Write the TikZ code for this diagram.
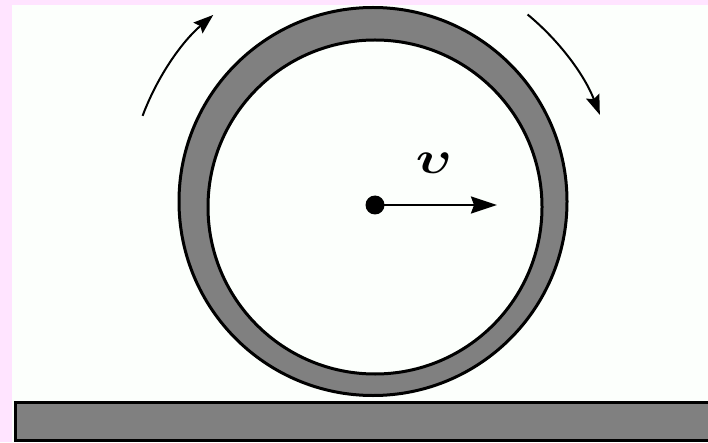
\documentclass[tikz,border=0pt]{standalone}
\usepackage{amsmath,bm}
\usetikzlibrary{arrows.meta}
\definecolor{pinkbg}{HTML}{FFE4FF}
\definecolor{innerbg}{HTML}{FCFFFC}
\definecolor{ringgray}{HTML}{808080}
\begin{document}
\begin{tikzpicture}[x=1pt,y=1pt,
  ring/.style={fill=ringgray,draw=black,line width=3pt,even odd rule},
  rotarrow/.style={line width=2pt,-{Stealth[length=20pt,width=14pt,inset=3pt]}},
  velarrow/.style={line width=2.5pt,-{Stealth[length=26pt,width=17pt,inset=3pt]}},
  barstyle/.style={fill=ringgray,draw=black,line width=3pt}]
\useasboundingbox (0,0) rectangle (708,442);
\fill[pinkbg] (0,0) rectangle (708,442);
\fill[innerbg] (12,0) rectangle (708,437);
% ground bar
\draw[barstyle] (15.5,1.5) rectangle (715,40);
% wheel
\path[ring] (373,240.5) circle (194) (375,235) circle (167);
% rotation arrows
\coordinate (c) at (373,240);
\draw[rotarrow] ([shift={(159.5:246)}]c) arc (159.5:130.5:246);
\draw[rotarrow] ([shift={(50.5:243)}]c) arc (50.5:21:243);
% velocity
\node[circle,fill=black,inner sep=0pt,minimum size=19pt] (dot) at (375,237) {};
\coordinate (vend) at (497,237);
\draw[velarrow] (dot.center) -- (vend);
\node (v) at (434,279) {\scalebox{5.4}[4.6]{$\bm{\upsilon}$}};
\end{tikzpicture}
\end{document}
